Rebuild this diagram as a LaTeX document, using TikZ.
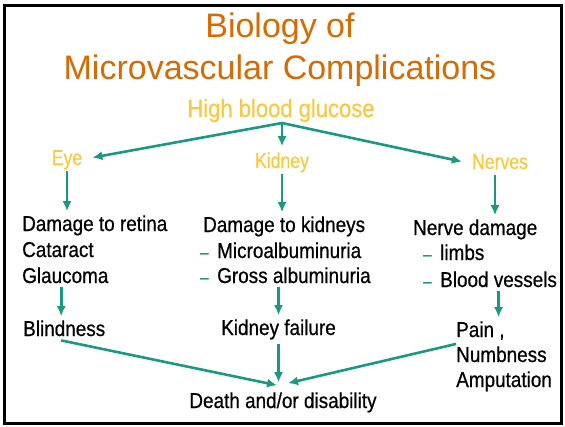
\documentclass[tikz,border=0pt]{standalone}
\usepackage{fontspec}
\setmainfont{Liberation Sans}
\newfontfamily\narrowsf[FakeStretch=0.88,FakeBold=0.6]{Liberation Sans}
\newfontfamily\labelsf[FakeStretch=0.82,FakeBold=0.4]{Liberation Sans}
\newfontfamily\causesf[FakeStretch=0.88,FakeBold=0.4]{Liberation Sans}
\usetikzlibrary{arrows.meta,positioning,calc}
\definecolor{tealarrow}{RGB}{26,153,130}
\definecolor{titleorange}{RGB}{216,106,0}
\definecolor{labelyellow}{RGB}{255,200,60}

\begin{document}
\begin{tikzpicture}[>={Latex[length=10pt,width=9pt]},x=1pt,y=-1pt]
  \tikzstyle{heading}=[font=\fontsize{34}{40}\selectfont,text=titleorange,anchor=base,inner sep=0pt]
  \tikzstyle{organ}=[font=\labelsf\fontsize{21.5}{26}\selectfont,text=labelyellow,anchor=base,inner xsep=10pt,inner ysep=6pt,text depth=0pt]
  \tikzstyle{txt}=[font=\narrowsf\fontsize{21.5}{26}\selectfont,anchor=base west,inner xsep=0pt,inner ysep=4pt]
  \tikzstyle{bullet}=[font=\narrowsf\fontsize{17}{22}\selectfont,text=tealarrow,anchor=base west,inner sep=0pt]
  \tikzstyle{arr}=[draw=tealarrow,line width=2.6pt,->]
  \useasboundingbox (0,0) rectangle (565,426);
  \draw[line width=3pt] (4.5,5.5) rectangle (561.5,423.5);

  % title and cause
  \node[heading] (title1) at (280,37) {Biology of};
  \node[heading] (title2) at (280,79) {Microvascular Complications};
  \node[organ,font=\causesf\fontsize{25}{30}\selectfont,inner sep=0pt] (glu) at (281,117) {High blood glucose};
  \coordinate (fork) at (282,123);

  % organs
  \node[organ] (eye) at (67,165) {Eye};
  \node[organ] (kid) at (282,168) {Kidney};
  \node[organ] (nerv) at (500,169) {Nerves};
  \draw[arr] (fork) -- (eye.east);
  \draw[arr] (fork) -- (kid.north);
  \draw[arr] (fork) -- (nerv.west);

  % damage
  \node[txt] (ret) at (22,231) {Damage to retina};
  \node[txt] (cat) at (22,257) {Cataract};
  \node[txt] (glau) at (22,283) {Glaucoma};
  \node[txt] (dk) at (203,232) {Damage to kidneys};
  \node[bullet] (b1) at (200,258) {\textendash};
  \node[txt] (micro) at (217,258) {Microalbuminuria};
  \node[bullet] (b2) at (200,283) {\textendash};
  \node[txt] (gross) at (217,283) {Gross albuminuria};
  \node[txt] (nd) at (413,235) {Nerve damage};
  \node[bullet] (b3) at (423,260) {\textendash};
  \node[txt] (limbs) at (440,260) {limbs};
  \node[bullet] (b4) at (423,287) {\textendash};
  \node[txt] (bv) at (440,287) {Blood vessels};
  \draw[arr] (eye.south) -- (eye.south |- ret.north);
  \draw[arr] (kid.south) -- (kid.south |- dk.north);
  \draw[arr] ([xshift=-5pt]nerv.south) -- ([xshift=-5pt]nerv.south |- nd.north);

  % outcomes
  \node[txt] (blind) at (23,336) {Blindness};
  \node[txt] (kf) at (221,335) {Kidney failure};
  \node[txt] (pain) at (456,337) {Pain ,};
  \node[txt] (numb) at (456,362) {Numbness};
  \node[txt] (amp) at (456,387) {Amputation};
  \draw[arr] ([xshift=-3pt]blind.north |- glau.south) -- ([xshift=-3pt]blind.north);
  \draw[arr] (kf.north |- gross.south) -- (kf.north);
  \draw[arr] (bv.south) -- (bv.south |- pain.north);

  % end point
  \node[txt,anchor=base] (death) at (283,408) {Death and/or disability};
  \draw[arr] ([xshift=-3pt]blind.south) -- ($(death.north)+(-6,-3)$);
  \draw[arr] (kf.south) -- ($(kf.south |- death.north)+(0,-6)$);
  \draw[arr] (pain.south west) -- ($(death.north)+(5,-5)$);
\end{tikzpicture}
\end{document}
